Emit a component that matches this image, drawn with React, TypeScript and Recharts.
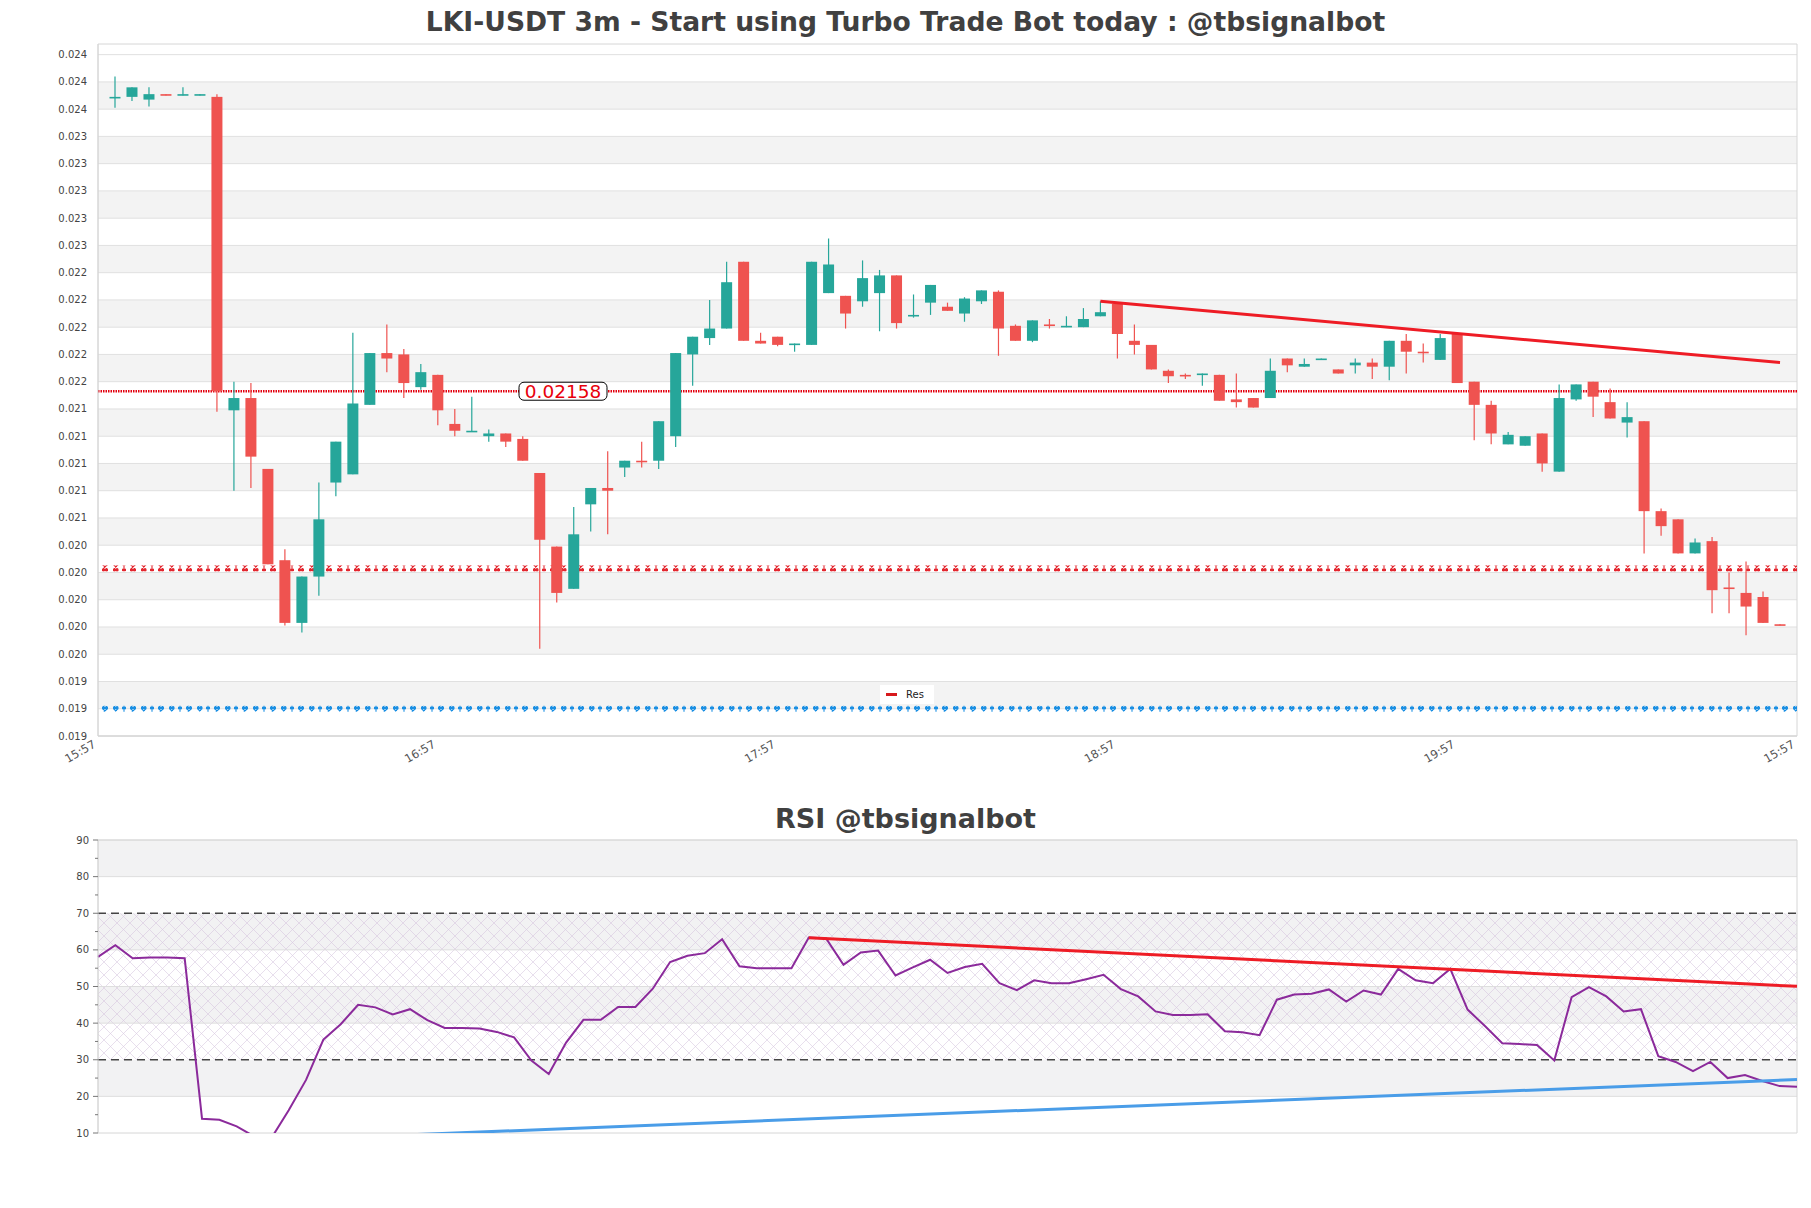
import React from 'react';
import { ComposedChart, Bar, Line, XAxis, YAxis, ReferenceLine, ReferenceArea } from 'recharts';

const FONT = '"DejaVu Sans", sans-serif';
const GREEN = '#26a69a';
const RED = '#ef5350';
const PLOT_LEFT = 98;

// 3m candles, 99 bars
const opens = [0.02373, 0.02374, 0.02372, 0.02376, 0.02375, 0.02375, 0.02374, 0.02144, 0.02153, 0.02101,
  0.02034, 0.01988, 0.02022, 0.02091, 0.02097, 0.02148, 0.02186, 0.02185, 0.02161, 0.02170,
  0.02134, 0.02128, 0.02125, 0.02127, 0.02123, 0.02098, 0.02044, 0.02013, 0.02075, 0.02087,
  0.02102, 0.02107, 0.02107, 0.02125, 0.02185, 0.02197, 0.02204, 0.02253, 0.02195, 0.02198,
  0.02192, 0.02192, 0.02230, 0.02228, 0.02224, 0.02230, 0.02243, 0.02213, 0.02223, 0.02220,
  0.02215, 0.02224, 0.02231, 0.02206, 0.02195, 0.02207, 0.02205, 0.02205, 0.02213, 0.02222,
  0.02195, 0.02192, 0.02173, 0.02170, 0.02170, 0.02170, 0.02152, 0.02153, 0.02153, 0.02182,
  0.02176, 0.02181, 0.02174, 0.02177, 0.02179, 0.02176, 0.02195, 0.02187, 0.02181, 0.02200,
  0.02165, 0.02148, 0.02119, 0.02118, 0.02127, 0.02099, 0.02152, 0.02165, 0.02150, 0.02135,
  0.02136, 0.02070, 0.02064, 0.02039, 0.02048, 0.02014, 0.02010, 0.02007, 0.01987];

const highs = [0.02389, 0.02381, 0.02381, 0.02376, 0.02381, 0.02376, 0.02376, 0.02165, 0.02164, 0.02101,
  0.02042, 0.02022, 0.02091, 0.02121, 0.02201, 0.02186, 0.02207, 0.02189, 0.02178, 0.02170,
  0.02145, 0.02154, 0.02130, 0.02127, 0.02125, 0.02098, 0.02044, 0.02073, 0.02087, 0.02114,
  0.02107, 0.02121, 0.02136, 0.02186, 0.02198, 0.02225, 0.02253, 0.02253, 0.02201, 0.02198,
  0.02193, 0.02253, 0.02270, 0.02228, 0.02254, 0.02247, 0.02243, 0.02229, 0.02236, 0.02223,
  0.02227, 0.02232, 0.02232, 0.02207, 0.02210, 0.02211, 0.02213, 0.02219, 0.02224, 0.02222,
  0.02207, 0.02192, 0.02174, 0.02171, 0.02171, 0.02170, 0.02171, 0.02153, 0.02182, 0.02182,
  0.02182, 0.02182, 0.02174, 0.02182, 0.02182, 0.02195, 0.02200, 0.02193, 0.02200, 0.02200,
  0.02165, 0.02151, 0.02128, 0.02125, 0.02127, 0.02163, 0.02163, 0.02165, 0.02160, 0.02150,
  0.02136, 0.02072, 0.02064, 0.02050, 0.02051, 0.02025, 0.02033, 0.02011, 0.01987];

const lows = [0.02366, 0.02371, 0.02367, 0.02375, 0.02375, 0.02375, 0.02143, 0.02085, 0.02087, 0.02031,
  0.01986, 0.01981, 0.02008, 0.02081, 0.02097, 0.02148, 0.02172, 0.02153, 0.02159, 0.02133,
  0.02125, 0.02128, 0.02121, 0.02117, 0.02107, 0.01969, 0.02003, 0.02013, 0.02055, 0.02053,
  0.02095, 0.02102, 0.02101, 0.02117, 0.02162, 0.02192, 0.02204, 0.02195, 0.02193, 0.02191,
  0.02187, 0.02192, 0.02230, 0.02204, 0.02220, 0.02202, 0.02204, 0.02212, 0.02214, 0.02217,
  0.02209, 0.02222, 0.02184, 0.02195, 0.02194, 0.02204, 0.02205, 0.02205, 0.02213, 0.02182,
  0.02185, 0.02174, 0.02164, 0.02167, 0.02162, 0.02151, 0.02146, 0.02146, 0.02153, 0.02172,
  0.02176, 0.02181, 0.02171, 0.02171, 0.02167, 0.02166, 0.02171, 0.02179, 0.02181, 0.02164,
  0.02122, 0.02119, 0.02119, 0.02118, 0.02099, 0.02099, 0.02151, 0.02139, 0.02138, 0.02124,
  0.02039, 0.02052, 0.02039, 0.02039, 0.01995, 0.01995, 0.01979, 0.01988, 0.01986];

const closes = [0.02374, 0.02381, 0.02376, 0.02375, 0.02376, 0.02376, 0.02158, 0.02153, 0.02110, 0.02031,
  0.01988, 0.02022, 0.02064, 0.02121, 0.02149, 0.02186, 0.02182, 0.02164, 0.02172, 0.02144,
  0.02129, 0.02129, 0.02127, 0.02121, 0.02107, 0.02049, 0.02010, 0.02053, 0.02087, 0.02085,
  0.02107, 0.02106, 0.02136, 0.02186, 0.02198, 0.02204, 0.02238, 0.02195, 0.02193, 0.02192,
  0.02193, 0.02253, 0.02251, 0.02215, 0.02241, 0.02243, 0.02208, 0.02214, 0.02236, 0.02217,
  0.02226, 0.02232, 0.02204, 0.02195, 0.02210, 0.02206, 0.02206, 0.02211, 0.02216, 0.02200,
  0.02192, 0.02174, 0.02169, 0.02169, 0.02171, 0.02151, 0.02150, 0.02146, 0.02173, 0.02177,
  0.02178, 0.02182, 0.02171, 0.02179, 0.02176, 0.02195, 0.02187, 0.02186, 0.02197, 0.02164,
  0.02148, 0.02127, 0.02126, 0.02125, 0.02105, 0.02153, 0.02163, 0.02154, 0.02138, 0.02139,
  0.02070, 0.02059, 0.02039, 0.02047, 0.02012, 0.02013, 0.02000, 0.01988, 0.01986];

const priceTicks = [0.01905, 0.01925, 0.01945, 0.01965, 0.01985, 0.02005, 0.02025, 0.02045, 0.02065,
  0.02085, 0.02105, 0.02125, 0.02145, 0.02165, 0.02185, 0.02205, 0.02225, 0.02245, 0.02265, 0.02285,
  0.02305, 0.02325, 0.02345, 0.02365, 0.02385, 0.02405];
const priceTickLabels = ['0.019', '0.019', '0.019', '0.020', '0.020', '0.020', '0.020', '0.020', '0.021',
  '0.021', '0.021', '0.021', '0.021', '0.022', '0.022', '0.022', '0.022', '0.022', '0.023', '0.023',
  '0.023', '0.023', '0.023', '0.024', '0.024', '0.024'];
const priceDomain = [0.01905, 0.024128];

const timeTicks = [-1, 19, 39, 59, 79, 99];
const timeLabels = ['15:57', '16:57', '17:57', '18:57', '19:57', '15:57'];

const lastPrice = 0.02158;
const supportRed = 0.02028;
const supportBlue = 0.01925;
const resLine = [{ idx: 58, price: 0.02224 }, { idx: 98, price: 0.02179 }];

// RSI
const rsiValues = [58.1, 61.3, 57.7, 57.9, 57.9, 57.7, 13.9, 13.6, 11.8, 9.1,
  8.6, 16.2, 24.5, 35.5, 39.7, 45.0, 44.3, 42.4, 43.8, 40.8,
  38.7, 38.7, 38.5, 37.6, 36.1, 29.8, 26.1, 34.7, 40.9, 40.9,
  44.4, 44.4, 49.4, 56.7, 58.4, 59.1, 62.9, 55.5, 55.0, 55.0,
  55.0, 63.4, 63.1, 55.9, 59.3, 59.8, 53.0, 55.2, 57.3, 53.7,
  55.3, 56.2, 50.9, 49.0, 51.7, 50.9, 50.9, 52.0, 53.2, 49.3,
  47.3, 43.2, 42.2, 42.2, 42.4, 37.8, 37.5, 36.7, 46.4, 47.8,
  48.0, 49.2, 45.9, 48.9, 47.8, 54.8, 51.7, 50.9, 54.8, 43.7,
  39.2, 34.5, 34.3, 34.0, 29.8, 47.1, 49.8, 47.3, 43.2, 43.8,
  31.0, 29.4, 26.9, 29.4, 25.0, 25.8, 24.2, 22.8, 22.6];
const rsiTicks = [10, 15, 20, 25, 30, 35, 40, 45, 50, 55, 60, 65, 70, 75, 80, 85, 90];
const rsiGrid = [20, 40, 50, 60, 80, 90];
const rsiShaded = [[20, 30], [40, 50], [60, 70], [80, 90]];
const rsiLevels = [30, 70];
const rsiResLine = [{ idx: 41, rsi: 63.3 }, { idx: 98, rsi: 50.05 }];
const rsiSupLine = [{ idx: 10, rsi: 8.0 }, { idx: 98, rsi: 24.6 }];

const candles = opens.map((o, i) => ({
  idx: i, open: o, high: highs[i], low: lows[i], close: closes[i], range: [lows[i], highs[i]],
}));
const rsiData = rsiValues.map((v, i) => ({ idx: i, rsi: v }));
const priceBands = priceTicks.slice(0, -1).map((t, k) => [t, priceTicks[k + 1]]).filter((_, k) => k % 2 === 1);

const Candle = (props: any) => {
  const { x, y, width, height, payload } = props;
  const { open, close, high, low } = payload;
  const color = close >= open ? GREEN : RED;
  const top = Math.min(y, y + height);
  const h = Math.abs(height);
  const span = high - low || 1e-9;
  const toY = (v: number) => top + ((high - v) / span) * h;
  const cx = x + width / 2;
  const bTop = toY(Math.max(open, close));
  const bBot = toY(Math.min(open, close));
  return (
    <g>
      <line x1={cx} x2={cx} y1={top} y2={top + h} stroke={color} strokeWidth={1.2} />
      <rect x={x} y={bTop} width={width} height={Math.max(bBot - bTop, 1.6)} fill={color} />
    </g>
  );
};

const PriceTick = ({ y, payload }: any) => (
  <text x={PLOT_LEFT - 11} y={y} dy={3.5} textAnchor="end" fontSize={10} fill="#444" fontFamily={FONT}>
    {priceTickLabels[priceTicks.indexOf(payload.value)]}
  </text>
);

const TimeTick = ({ x, y, payload }: any) => (
  <text x={x - 3} y={y} dy={3} textAnchor="end" fontSize={11.5} fill="#555" fontFamily={FONT}
    transform={`rotate(-30, ${x - 3}, ${y})`}>
    {timeLabels[timeTicks.indexOf(payload.value)]}
  </text>
);

const RsiTick = ({ y, payload }: any) => {
  const major = payload.value % 10 === 0;
  return (
    <g>
      <line x1={PLOT_LEFT - (major ? 5 : 3)} x2={PLOT_LEFT} y1={y} y2={y} stroke="#777" strokeWidth={1} />
      {major && (
        <text x={PLOT_LEFT - 9} y={y} dy={3.5} textAnchor="end" fontSize={10} fill="#444" fontFamily={FONT}>
          {payload.value}
        </text>
      )}
    </g>
  );
};

const PriceTag = (props: any) => {
  const { viewBox } = props;
  const cx = viewBox.x + 465;
  const cy = viewBox.y;
  return (
    <g>
      <rect x={cx - 44} y={cy - 9} width={88} height={18} rx={5} fill="#fff" stroke="#000" strokeWidth={1} />
      <text x={cx} y={cy} dy={6.5} textAnchor="middle" fontSize={18.5} fill="#e8000b" fontFamily={FONT}>
        {lastPrice}
      </text>
    </g>
  );
};

const MarkerLine = (pattern: string) => (props: any) => {
  const { x1, x2, y1 } = props;
  return <rect x={Math.min(x1, x2)} y={y1 - 3} width={Math.abs(x2 - x1)} height={6} fill={`url(#${pattern})`} />;
};

const title: React.CSSProperties = {
  position: 'absolute', left: 0, width: 1811, textAlign: 'center', fontFamily: FONT,
  fontWeight: 'bold', color: '#404040', lineHeight: '32px',
};

// x-marker glyphs with small gaps, like the support lines of the source chart
const markPath = 'M1 0.6H6.5M1 5.4H6.5M1.5 0.6L6 5.4M6 0.6L1.5 5.4M10 0.6H14M10 5.4H14M12 0.6V5.4M18 0.6H24M18 5.4H24M18.5 0.6L23.5 5.4M23.5 0.6L18.5 5.4';

export default function App() {
  return (
    <div style={{ position: 'absolute', left: 0, top: 0, width: 1811, height: 1208, background: '#fff', fontFamily: FONT }}>
      <div style={{ ...title, top: 6, fontSize: 26.6 }}>LKI-USDT 3m - Start using Turbo Trade Bot today : @tbsignalbot</div>

      <div style={{ position: 'absolute', left: 0, top: 0 }}>
        <ComposedChart width={1811} height={780} data={candles} margin={{ top: 44, right: 14, bottom: 0, left: 0 }}>
          <defs>
            <pattern id="xRed" width="28" height="6" patternUnits="userSpaceOnUse">
              <path d={markPath} stroke="#e3262e" strokeWidth="1.1" fill="none" />
            </pattern>
            <pattern id="xBlue" width="28" height="6" patternUnits="userSpaceOnUse">
              <path d={markPath} stroke="#1a8fe3" strokeWidth="1.1" fill="none" />
            </pattern>
          </defs>
          <XAxis dataKey="idx" type="number" domain={[-1, 99]} ticks={timeTicks} height={44}
            tick={<TimeTick />} tickLine={false} axisLine={{ stroke: '#d6d6d6' }} interval={0} />
          <YAxis type="number" domain={priceDomain} ticks={priceTicks} width={PLOT_LEFT} allowDataOverflow
            tick={<PriceTick />} tickLine={false} axisLine={{ stroke: '#d6d6d6' }} interval={0} />
          {priceBands.map(([a, b], k) => (
            <ReferenceArea key={`band${k}`} y1={a} y2={b} fill="#f3f3f3" fillOpacity={1} stroke="none" zIndex={-200} />
          ))}
          {priceTicks.map((t) => (
            <ReferenceLine key={`g${t}`} y={t} stroke="#e0e0e0" strokeWidth={1} zIndex={-150} />
          ))}
          <ReferenceArea x1={-1} x2={99} y1={priceDomain[0]} y2={priceDomain[1]} fill="none" stroke="#d6d6d6" zIndex={-140} />
          <ReferenceLine y={supportRed} shape={MarkerLine('xRed')} zIndex={-100} />
          <ReferenceLine y={supportBlue} shape={MarkerLine('xBlue')} zIndex={-100} />
          <ReferenceLine y={lastPrice} stroke="#e3000f" strokeWidth={2.5} strokeDasharray="1.5 1" zIndex={-90} label={<PriceTag />} />
          <Bar dataKey="range" barSize={11} shape={<Candle />} isAnimationActive={false} />
          <ReferenceLine segment={[{ x: resLine[0].idx, y: resLine[0].price }, { x: resLine[1].idx, y: resLine[1].price }]}
            stroke="#ee1c25" strokeWidth={3} zIndex={600} />
        </ComposedChart>
      </div>

      <div style={{ position: 'absolute', left: 880, top: 685, width: 54, height: 19, background: '#fff', display: 'flex', alignItems: 'center' }}>
        <div style={{ width: 11, height: 2.5, background: '#d7191c', marginLeft: 6, marginRight: 9 }} />
        <span style={{ fontSize: 10, color: '#222' }}>Res</span>
      </div>

      <div style={{ ...title, top: 803, fontSize: 27 }}>RSI @tbsignalbot</div>

      <div style={{ position: 'absolute', left: 0, top: 780 }}>
        <ComposedChart width={1811} height={428} data={rsiData} margin={{ top: 60, right: 14, bottom: 75, left: 0 }}>
          <defs>
            <pattern id="hatch" width="13" height="13" patternUnits="userSpaceOnUse">
              <path d="M0 0L13 13M13 0L0 13" stroke="#d2c0dc" strokeWidth="0.6" fill="none" />
            </pattern>
          </defs>
          <XAxis dataKey="idx" type="number" domain={[0, 98]} hide />
          <YAxis type="number" domain={[10, 90]} ticks={rsiTicks} width={PLOT_LEFT} allowDataOverflow
            tick={<RsiTick />} tickLine={false} axisLine={{ stroke: '#d6d6d6' }} interval={0} />
          {rsiShaded.map(([a, b]) => (
            <ReferenceArea key={`rb${a}`} y1={a} y2={b} fill="#f2f2f3" fillOpacity={1} stroke="none" zIndex={-200} />
          ))}
          <ReferenceArea y1={rsiLevels[0]} y2={rsiLevels[1]} fill="url(#hatch)" fillOpacity={0.85} stroke="none" zIndex={-180} />
          {rsiGrid.map((g) => (
            <ReferenceLine key={`rg${g}`} y={g} stroke="#dedede" strokeWidth={1} zIndex={-150} />
          ))}
          <ReferenceArea x1={0} x2={98} y1={10} y2={90} fill="none" stroke="#d6d6d6" zIndex={-140} />
          {rsiLevels.map((l) => (
            <ReferenceLine key={`lv${l}`} y={l} stroke="#444" strokeWidth={1.3} strokeDasharray="8 5" zIndex={-120} />
          ))}
          <Line dataKey="rsi" type="linear" stroke="#8b2a9b" strokeWidth={2} dot={false} isAnimationActive={false} />
          <ReferenceLine segment={[{ x: rsiResLine[0].idx, y: rsiResLine[0].rsi }, { x: rsiResLine[1].idx, y: rsiResLine[1].rsi }]}
            stroke="#ee1c25" strokeWidth={3} zIndex={600} />
          <ReferenceLine segment={[{ x: rsiSupLine[0].idx, y: rsiSupLine[0].rsi }, { x: rsiSupLine[1].idx, y: rsiSupLine[1].rsi }]}
            stroke="#4a9de8" strokeWidth={3} ifOverflow="hidden" zIndex={600} />
        </ComposedChart>
      </div>
    </div>
  );
}
